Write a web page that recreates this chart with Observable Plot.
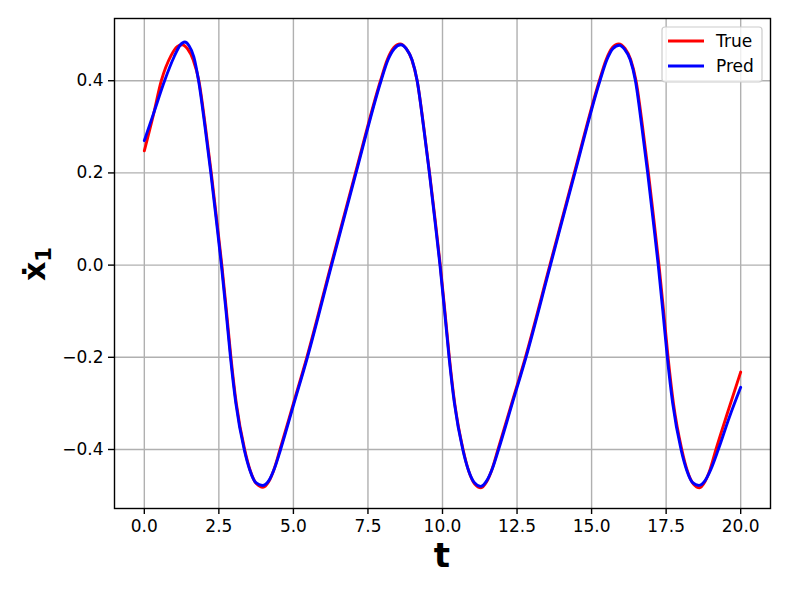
<!DOCTYPE html>
<html>
<head>
<meta charset="utf-8">
<script src="https://cdn.jsdelivr.net/npm/d3@7"></script>
<script src="https://cdn.jsdelivr.net/npm/@observablehq/plot@0.6"></script>
<style>
  html, body { margin: 0; padding: 0; background: #fff; }
  #chart svg { font-family: "DejaVu Sans", sans-serif; }
</style>
</head>
<body>
<div id="chart"></div>
<script>
// ---- Data ----
const tTrue = [0,0.3,0.57,0.9,1.1,1.27,1.45,1.64,1.83,2.05,2.245,2.425,2.60,2.755,2.905,3.085,3.365,3.555,3.755,3.98, 4.17,4.36,4.55,5.0,5.45,6.26,7.08,7.92,8.15,8.37,8.58, 8.78,8.97,9.15,9.37,9.565,9.75,9.925,10.08,10.23,10.41,10.69,10.88,11.08,11.29, 11.48,11.67,11.86,12.32,12.78,13.60,14.42,15.26,15.49,15.70,15.91, 16.12,16.31,16.49,16.71,16.905,17.085,17.26,17.415,17.565,17.745,18.025,18.215,18.415,18.62, 18.80,18.98,19.17,19.58,20.0];
const vTrue = [0.248,0.325,0.400,0.455,0.474,0.478,0.469,0.445,0.400,0.300,0.200,0.100,0.000,-0.100,-0.200,-0.300,-0.400,-0.446,-0.474,-0.482, -0.470,-0.441,-0.400,-0.300,-0.200,0.000,0.200,0.400,0.446,0.472,0.480, 0.470,0.446,0.400,0.300,0.200,0.100,0.000,-0.100,-0.200,-0.300,-0.400,-0.447,-0.475,-0.483, -0.470,-0.441,-0.400,-0.300,-0.200,0.000,0.200,0.400,0.446,0.472,0.480, 0.470,0.446,0.400,0.300,0.200,0.100,0.000,-0.100,-0.200,-0.300,-0.400,-0.447,-0.475,-0.483, -0.470,-0.442,-0.400,-0.316,-0.232];
const tPred = [0,0.3,0.68,1.0,1.2,1.36,1.5,1.66,1.82,2.035,2.23,2.41,2.585,2.74,2.89,3.07,3.35,3.54,3.74,3.96, 4.17,4.37,4.57,5.02,5.47,6.28,7.10,7.94,8.17,8.39,8.60, 8.8,8.98,9.15,9.365,9.56,9.74,9.915,10.07,10.22,10.40,10.68,10.87,11.07,11.28, 11.48,11.68,11.88,12.34,12.80,13.62,14.44,15.28,15.51,15.72,15.93, 16.11,16.30,16.47,16.685,16.88,17.06,17.235,17.39,17.54,17.72,18.0,18.19,18.39,18.60, 18.80,19.0,19.25,19.62,20.0];
const vPred = [0.270,0.327,0.400,0.452,0.477,0.484,0.476,0.452,0.400,0.300,0.200,0.100,0.000,-0.100,-0.200,-0.300,-0.400,-0.445,-0.472,-0.478, -0.468,-0.440,-0.400,-0.300,-0.200,0.000,0.200,0.400,0.445,0.470,0.478, 0.468,0.445,0.400,0.300,0.200,0.100,0.000,-0.100,-0.200,-0.300,-0.400,-0.445,-0.472,-0.480, -0.468,-0.440,-0.400,-0.300,-0.200,0.000,0.200,0.400,0.445,0.470,0.477, 0.468,0.445,0.400,0.300,0.200,0.100,0.000,-0.100,-0.200,-0.300,-0.400,-0.445,-0.472,-0.478, -0.468,-0.443,-0.400,-0.330,-0.265];
const xTicks = [0, 2.5, 5, 7.5, 10, 12.5, 15, 17.5, 20];
const yTicks = [-0.4, -0.2, 0, 0.2, 0.4];
const seriesNames = ["True", "Pred"];
const seriesColors = ["red", "blue"];
const xLabel = "t";

const trueRows = tTrue.map((t, i) => ({t, v: vTrue[i]}));
const predRows = tPred.map((t, i) => ({t, v: vPred[i]}));
const fmt = d => (d < 0 ? "\u2212" : "") + Math.abs(d).toFixed(1);

const W = 789, H = 592;
const plot = Plot.plot({
  width: W, height: H,
  marginLeft: 114, marginRight: 19, marginTop: 18, marginBottom: 84,
  style: {fontFamily: "DejaVu Sans", fontSize: "17px", color: "black", background: "white"},
  x: {domain: [-1, 21]},
  y: {domain: [-0.528, 0.535]},
  marks: [
    Plot.gridX(xTicks, {stroke: "#b0b0b0", strokeOpacity: 1, strokeWidth: 1.4}),
    Plot.gridY(yTicks, {stroke: "#b0b0b0", strokeOpacity: 1, strokeWidth: 1.4}),
    Plot.line(trueRows, {x: "t", y: "v", stroke: seriesColors[0], strokeWidth: 2.9, curve: "monotone-x"}),
    Plot.line(predRows, {x: "t", y: "v", stroke: seriesColors[1], strokeWidth: 2.9, curve: "monotone-x"}),
    Plot.frame({stroke: "black", strokeWidth: 1.4}),
    Plot.axisX(xTicks, {tickSize: 6, tickPadding: 5, tickFormat: fmt, label: null, fontSize: 17, strokeWidth: 1.4}),
    Plot.axisY(yTicks, {tickSize: 6, tickPadding: 5, tickFormat: fmt, label: null, fontSize: 17, strokeWidth: 1.4})
  ]
});
document.getElementById("chart").appendChild(plot);

const svg = d3.select(plot);
// x axis label
svg.append("text").attr("x", 442).attr("y", 567).attr("text-anchor", "middle")
  .attr("font-size", 34).attr("font-weight", "bold").attr("fill", "black").text(xLabel);
// y axis label: x-dot with subscript 1
const yl = svg.append("text").attr("transform", "translate(45,264) rotate(-90)")
  .attr("text-anchor", "middle").attr("font-size", 30).attr("font-weight", "bold").attr("fill", "black");
yl.append("tspan").text("\u1E8B");
yl.append("tspan").attr("font-size", 21).attr("dy", 6).text("1");

// legend
const lg = svg.append("g");
lg.append("rect").attr("x", 662).attr("y", 27).attr("width", 100).attr("height", 55).attr("rx", 3)
  .attr("fill", "white").attr("fill-opacity", 0.8).attr("stroke", "#cccccc").attr("stroke-width", 1.2);
seriesNames.forEach((name, i) => {
  const y = 41 + i * 25;
  lg.append("line").attr("x1", 668).attr("x2", 704).attr("y1", y).attr("y2", y)
    .attr("stroke", seriesColors[i]).attr("stroke-width", 2.9);
  lg.append("text").attr("x", 716).attr("y", y).attr("dy", "0.35em").attr("font-size", 17)
    .attr("text-anchor", "start").attr("fill", "black").text(name);
});
</script>
</body>
</html>
